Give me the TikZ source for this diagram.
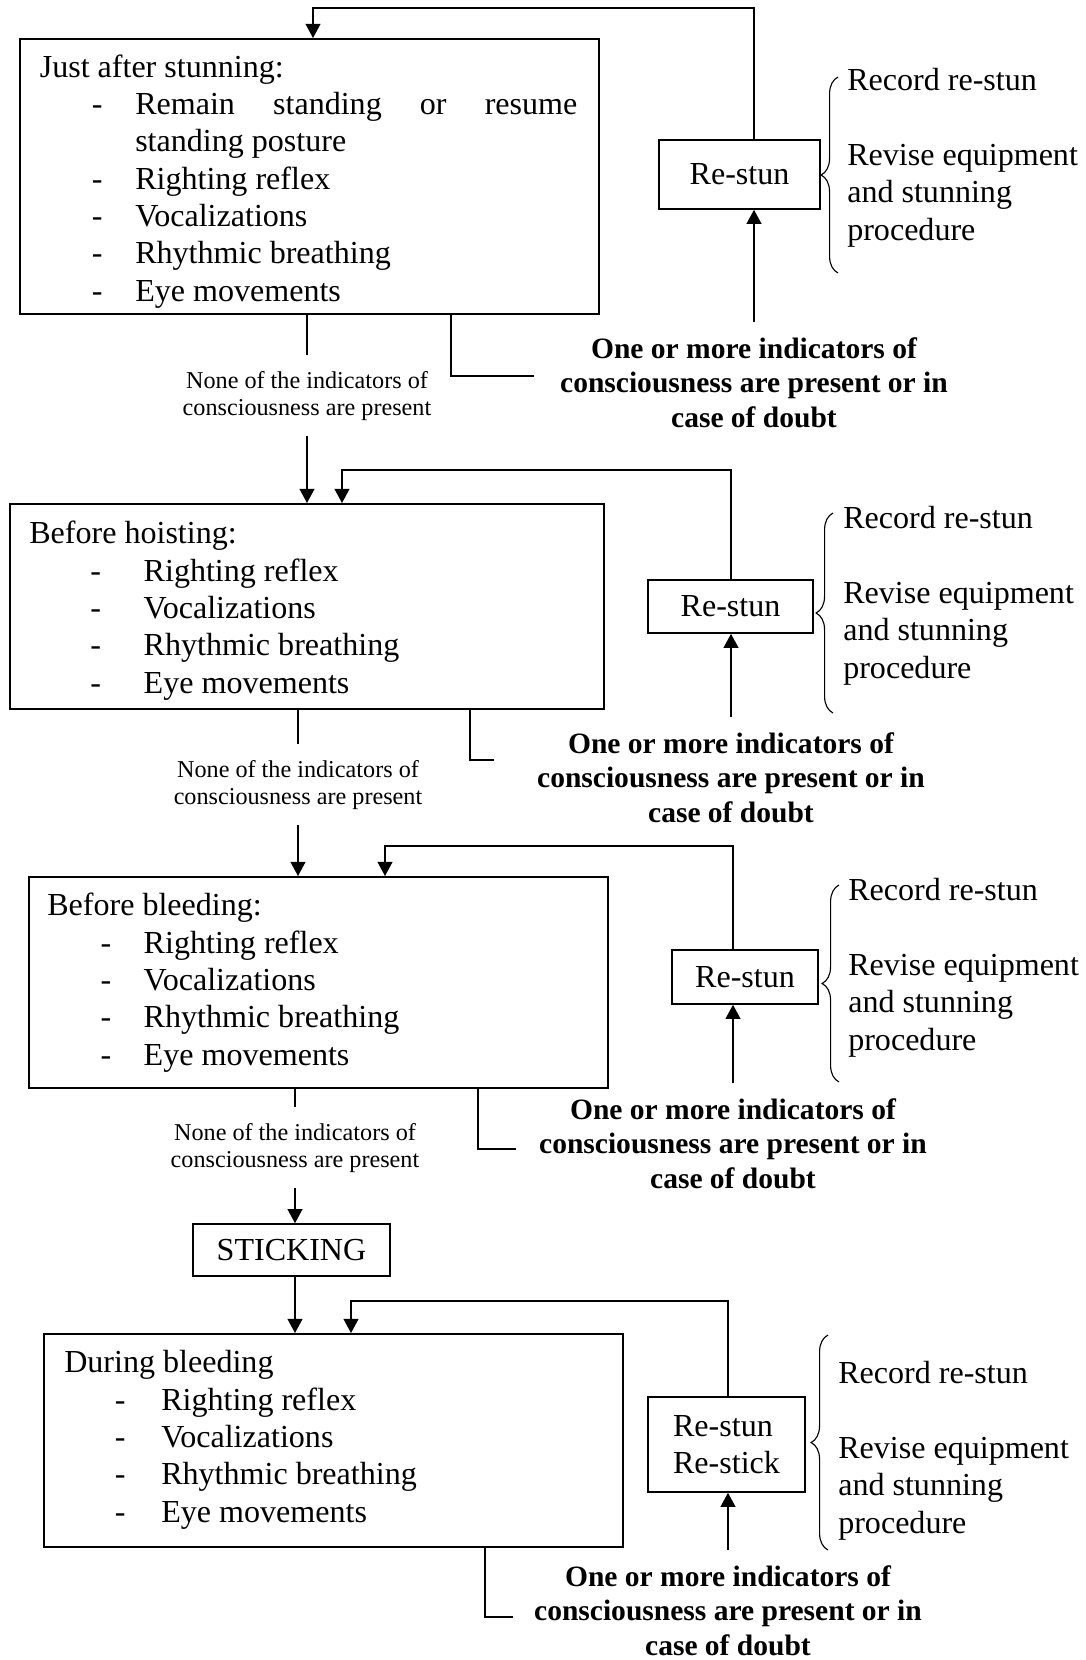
\documentclass[tikz,border=0pt]{standalone}
\usepackage{fontspec}
\setmainfont{Liberation Serif}
\usetikzlibrary{arrows.meta,decorations.pathreplacing}

\newcommand{\bigtxt}{\fontsize{22.8}{26.5}\selectfont}
\newcommand{\smalltxt}{\fontsize{17.2}{19.2}\selectfont}
\newcommand{\boldtxt}{\fontsize{21}{24.5}\selectfont\bfseries}

\newlength{\dashx}
\newlength{\textx}
\newcommand{\setitems}[2]{\setlength{\dashx}{#1}\setlength{\textx}{#2}}
\newcommand{\li}[1]{\\\makebox[\textx][l]{\hspace*{\dashx}-}#1}

\tikzstyle{box}=[draw,line width=1.1pt,inner sep=0pt,font=\bigtxt]
\tikzstyle{txt}=[inner sep=0pt,anchor=base west,align=left,font=\bigtxt]
\tikzstyle{small}=[inner xsep=0pt,inner ysep=11pt,anchor=base,align=center,font=\smalltxt]
\tikzstyle{bold}=[inner xsep=0pt,inner ysep=11pt,anchor=base,align=center,font=\boldtxt]
\tikzstyle{line}=[line width=1.1pt]
\tikzstyle{arr}=[line width=1.1pt,-{Triangle[length=10pt,width=10.5pt]}]
\tikzstyle{brace}=[decorate,decoration={brace,amplitude=12pt},line width=0.8pt]

\begin{document}
\begin{tikzpicture}[x=0.025cm,y=-0.025cm]
\useasboundingbox (0,0) rectangle (1086,1660);

% main boxes
\node[box,anchor=north west,minimum width=14.475cm,minimum height=6.875cm] (b1) at (19,38) {};
\node[box,anchor=north west,minimum width=14.85cm,minimum height=5.125cm] (b2) at (9,503) {};
\node[box,anchor=north west,minimum width=14.475cm,minimum height=5.275cm] (b3) at (28,876) {};
\node[box,anchor=north west,minimum width=14.475cm,minimum height=5.325cm] (b4) at (43,1333) {};

% lists (anchored on the last line)
\setitems{37pt}{67.9pt}
\node[txt] (t1) at (39.5,301) {Just after stunning:\li{\makebox[314.4pt][s]{Remain standing or resume}}\\\hspace*{\textx}standing posture\li{Righting reflex}\li{Vocalizations}\li{Rhythmic breathing}\li{Eye movements}};
\setitems{43.4pt}{81.4pt}
\node[txt] (t2) at (29,693) {Before hoisting:\li{Righting reflex}\li{Vocalizations}\li{Rhythmic breathing}\li{Eye movements}};
\setitems{38pt}{68.6pt}
\node[txt] (t3) at (47,1065) {Before bleeding:\li{Righting reflex}\li{Vocalizations}\li{Rhythmic breathing}\li{Eye movements}};
\setitems{35.9pt}{69pt}
\node[txt] (t4) at (64,1522) {During bleeding\li{Righting reflex}\li{Vocalizations}\li{Rhythmic breathing}\li{Eye movements}};

% re-stun boxes
\node[box,minimum width=4.025cm,minimum height=1.725cm] (r1) at (739.5,174.5) {Re-stun};
\node[box,minimum width=4.125cm,minimum height=1.325cm] (r2) at (730.5,606.5) {Re-stun};
\node[box,minimum width=3.65cm,minimum height=1.35cm] (r3) at (745,977) {Re-stun};
\node[box,minimum width=3.925cm,minimum height=2.375cm,align=left] (r4) at (726.5,1444.5) {Re-stun\\Re-stick};

\node[box,minimum width=4.925cm,minimum height=1.3cm] (s) at (291.5,1250) {STICKING};

% conditions
\node[bold] (o1) at (754,427) {One or more indicators of\\consciousness are present or in\\case of doubt};
\node[bold] (o2) at (731,822) {One or more indicators of\\consciousness are present or in\\case of doubt};
\node[bold] (o3) at (733,1188) {One or more indicators of\\consciousness are present or in\\case of doubt};
\node[bold] (o4) at (728,1655) {One or more indicators of\\consciousness are present or in\\case of doubt};

\node[small] (n1) at (307,415) {None of the indicators of\\consciousness are present};
\node[small] (n2) at (298,804) {None of the indicators of\\consciousness are present};
\node[small] (n3) at (295,1167) {None of the indicators of\\consciousness are present};

% right hand notes
\foreach \bx/\btop/\bbot/\nx/\ny [count=\i] in {838/77/273/847/240, 833/513/713/843/678, 839/885/1082/848/1050, 828/1335/1550/838/1533}{
\draw[brace] (\bx,\bbot) -- (\bx,\btop);
\node[txt] (note\i) at (\nx,\ny) {Record re-stun\\[\baselineskip]Revise equipment\\and stunning\\procedure};
}

% main flow
\draw[line] (b1.south -| n1.north) -- (n1.north);
\draw[arr] (n1.south) -- (b2.north -| n1.south);
\draw[line] (b2.south -| n2.north) -- (n2.north);
\draw[arr] (n2.south) -- (b3.north -| n2.south);
\draw[line] (b3.south -| n3.north) -- (n3.north);
\draw[arr] (n3.south) -- (s.north -| n3.south);
\draw[arr] (s.south -| n3.south) -- (b4.north -| n3.south);

% feedback loops
\coordinate (k1) at (313,8);
\coordinate (k2) at (342,470);
\coordinate (k3) at (385,846);
\coordinate (k4) at (351,1301);
\draw[arr] (o1.north) -- (r1.south -| o1.north);
\draw[arr] (r1.north -| o1.north) |- (k1) -- (b1.north -| k1);
\draw[arr] (o2.north) -- (r2.south -| o2.north);
\draw[arr] (r2.north -| o2.north) |- (k2) -- (b2.north -| k2);
\draw[arr] (o3.north) -- (r3.south -| o3.north);
\draw[arr] (r3.north -| o3.north) |- (k3) -- (b3.north -| k3);
\draw[arr] (o4.north) -- (r4.south -| o4.north);
\draw[arr] (r4.north -| o4.north) |- (k4) -- (b4.north -| k4);

% links to the conditions
\coordinate (e1) at (451,376); \coordinate (f1) at (534,376);
\coordinate (e2) at (470,760); \coordinate (f2) at (494,760);
\coordinate (e3) at (478,1149); \coordinate (f3) at (516,1149);
\coordinate (e4) at (485,1617); \coordinate (f4) at (513,1617);
\draw[line] (b1.south -| e1) -- (e1) -- (f1);
\draw[line] (b2.south -| e2) -- (e2) -- (f2);
\draw[line] (b3.south -| e3) -- (e3) -- (f3);
\draw[line] (b4.south -| e4) -- (e4) -- (f4);
\end{tikzpicture}
\end{document}
